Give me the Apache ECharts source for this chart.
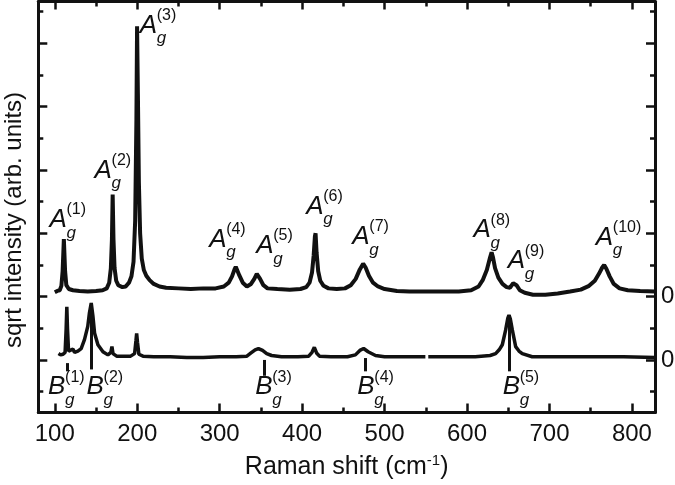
<!DOCTYPE html>
<html>
<head>
<meta charset="utf-8">
<script src="https://cdn.jsdelivr.net/npm/echarts@6/dist/echarts.min.js"></script>
<style>
html, body { margin: 0; padding: 0; background: #fff; }
#chart { width: 675px; height: 485px; }
</style>
</head>
<body>
<div id="chart"></div>
<script>
// upper spectrum (A_g modes), values relative to its own zero line
var topShift = [100, 103, 106, 108, 109.5, 111, 112.5, 114, 117, 122, 130, 140, 150, 158, 163, 166, 168, 169.3, 170.2, 171.2,
    172.5, 174.5, 177, 182, 186, 190, 193, 195.5, 197.5, 199, 199.8, 200.8, 202, 203.5, 205.5, 208, 211, 215, 220, 227,
    235, 250, 265, 280, 295, 305, 311, 315, 318, 319.5, 321, 324, 328, 333, 338, 342, 345, 346.5, 349, 353,
    358, 370, 385, 398, 405, 409, 412, 414, 415.5, 416.3, 417.5, 419.5, 422, 426, 432, 442, 452, 459, 465, 470,
    474, 477, 481, 486, 492, 500, 515, 530, 550, 570, 590, 605, 614, 619, 624, 628, 629.8, 631.5, 634, 638,
    643, 648, 652, 656, 658, 660, 664, 670, 680, 695, 710, 725, 738, 748, 755, 760, 764, 766.3, 769, 773,
    778, 785, 795, 810, 828];
var topIntensity = [0.07, 0.09, 0.10, 0.17, 0.40, 0.91, 0.40, 0.18, 0.12, 0.10, 0.09, 0.08, 0.09, 0.10, 0.13, 0.22, 0.45, 0.90, 1.61, 0.90,
    0.45, 0.25, 0.18, 0.15, 0.16, 0.22, 0.32, 0.55, 1.20, 2.80, 4.27, 3.20, 1.80, 1.00, 0.60, 0.42, 0.33, 0.26, 0.20, 0.16,
    0.14, 0.13, 0.12, 0.13, 0.13, 0.16, 0.22, 0.32, 0.43, 0.47, 0.44, 0.33, 0.22, 0.16, 0.20, 0.28, 0.36, 0.37, 0.28, 0.18,
    0.13, 0.12, 0.11, 0.12, 0.15, 0.22, 0.38, 0.65, 0.95, 1.00, 0.70, 0.40, 0.25, 0.17, 0.13, 0.12, 0.13, 0.18, 0.28, 0.43,
    0.52, 0.46, 0.33, 0.22, 0.16, 0.12, 0.09, 0.08, 0.08, 0.08, 0.08, 0.10, 0.16, 0.26, 0.42, 0.62, 0.70, 0.62, 0.45, 0.30,
    0.20, 0.15, 0.14, 0.21, 0.24, 0.18, 0.10, 0.06, 0.03, 0.03, 0.05, 0.08, 0.11, 0.17, 0.25, 0.36, 0.46, 0.50, 0.44, 0.32,
    0.20, 0.13, 0.10, 0.09, 0.08];
var topOffset = 1;

// lower spectrum (B_g modes); '-' is the gap in the recorded data
var bottomShift = [104.5, 107, 110, 112.5, 113.8, 114.6, 115.4, 116.7, 119, 122, 124, 128, 132, 136, 140, 142, 144.2, 146.2, 148.3, 152.3,
    158.4, 164.4, 168, 169.3, 170.6, 175, 185, 192, 196.8, 198.4, 199.3, 200.3, 202, 207, 220, 240, 260, 280, 300, 320,
    333, 338, 343, 347, 352, 357, 363, 375, 395, 408, 412, 414.8, 417.5, 421, 435, 455, 464.6, 470, 474.6, 480,
    489, 500, 520, 540, 549.5, 551, 553, 580, 610, 628, 634.7, 639, 642.8, 646.8, 649.5, 650.9, 652.5, 655, 659, 663,
    667, 679, 700, 730, 760, 790, 828];
var bottomIntensity = [0.10, 0.08, 0.09, 0.12, 0.50, 0.84, 0.50, 0.14, 0.12, 0.17, 0.12, 0.14, 0.18, 0.32, 0.53, 0.74, 0.90, 0.70, 0.42, 0.24,
    0.13, 0.08, 0.12, 0.21, 0.10, 0.06, 0.06, 0.06, 0.10, 0.30, 0.42, 0.28, 0.09, 0.06, 0.05, 0.05, 0.04, 0.04, 0.05, 0.05,
    0.06, 0.11, 0.16, 0.18, 0.15, 0.10, 0.07, 0.05, 0.05, 0.06, 0.12, 0.20, 0.11, 0.06, 0.05, 0.05, 0.08, 0.15, 0.18, 0.13,
    0.07, 0.05, 0.05, 0.05, 0.05, '-', 0.05, 0.05, 0.05, 0.07, 0.10, 0.16, 0.24, 0.47, 0.66, 0.71, 0.65, 0.47, 0.21, 0.14,
    0.10, 0.05, 0.05, 0.05, 0.05, 0.05, 0.04];

// mode labels: letter, superscript index, anchor (shift, intensity)
var modeLetter = ['A', 'A', 'A', 'A', 'A', 'A', 'A', 'A', 'A', 'A', 'B', 'B', 'B', 'B', 'B'];
var modeIndex = ['(1)', '(2)', '(3)', '(4)', '(5)', '(6)', '(7)', '(8)', '(9)', '(10)', '(1)', '(2)', '(3)', '(4)', '(5)'];
var modeLabelX = [93.6, 148.3, 203, 287.2, 344.3, 405, 460.9, 608, 649.3, 756.2, 91.9, 138.6, 343.1, 467, 643.2];
var modeLabelY = [2.21, 2.99, 5.28, 1.90, 1.80, 2.42, 1.94, 2.05, 1.56, 1.93, -0.43, -0.43, -0.43, -0.43, -0.43];

// B_g marker bars under the lower spectrum
var bMarkShift = [115, 144.5, 354, 476.5, 651];
var bMarkTop = [-0.05, 0.9, 0.0, 0.03, 0.71];
var bMarkBottom = [-0.18, -0.15, -0.25, -0.18, -0.18];

var xMajor = [100, 200, 300, 400, 500, 600, 700, 800];
var xMinor = [150, 250, 350, 450, 550, 650, 750];
var yMajor = [0, 1, 2, 3, 4, 5];
var yMinor = [-0.5, 0.5, 1.5, 2.5, 3.5, 4.5, 5.5];
var zeroLines = [0, topOffset];

var ink = '#111';
var font = 'Liberation Sans';

var chart = echarts.init(document.getElementById('chart'));

function xAx(pos, ticks, len, withLine, withLabel) {
    return {
        type: 'value', position: pos, min: 80, max: 828,
        axisLine: { show: withLine, onZero: false, lineStyle: { color: ink, width: 3 } },
        axisTick: { show: true, inside: true, length: len, customValues: ticks, lineStyle: { color: ink, width: 2.5 } },
        axisLabel: withLabel ? { show: true, customValues: ticks, color: ink, fontSize: 24, fontFamily: font, margin: 10 } : { show: false },
        splitLine: { show: false }
    };
}
function yAx(pos, ticks, len, withLine, labels) {
    return {
        type: 'value', position: pos, min: -0.83, max: 5.66,
        axisLine: { show: withLine, onZero: false, lineStyle: { color: ink, width: 3 } },
        axisTick: { show: true, inside: true, length: len, customValues: ticks, lineStyle: { color: ink, width: 2.5 } },
        axisLabel: labels ? { show: true, customValues: labels, formatter: function () { return '0'; }, color: ink, fontSize: 24, fontFamily: font, margin: 6 } : { show: false },
        splitLine: { show: false }
    };
}

var xBottom = xAx('bottom', xMajor, 9, true, true);
xBottom.name = '{a|Raman shift (cm}{s|-1}{a|)}';
xBottom.nameLocation = 'middle';
xBottom.nameGap = 41;
xBottom.nameTextStyle = {
    rich: {
        a: { fontSize: 25, fontFamily: font, color: ink, lineHeight: 28 },
        s: { fontSize: 15, fontFamily: font, color: ink, lineHeight: 15, verticalAlign: 'top' }
    }
};

function labelSeries(texts, dx, dy, style) {
    return {
        type: 'scatter', symbolSize: 0, silent: true, z: 5,
        itemStyle: { opacity: 1 },
        data: modeLabelX.map(function (x, i) { return { value: [x, modeLabelY[i]], name: texts[i] }; }),
        label: Object.assign({ show: true, position: 'right', distance: 0, offset: [dx, dy], color: ink, opacity: 1, fontFamily: font,
            formatter: function (p) { return p.name; } }, style)
    };
}

var markData = bMarkShift.map(function (x, i) {
    return [{ coord: [x, bMarkTop[i]] }, { coord: [x, bMarkBottom[i]] }];
});

var option = {
    animation: false,
    backgroundColor: '#fff',
    grid: { left: 38.3, right: 20, top: 1.5, bottom: 72.5, outerBoundsMode: 'none' },
    xAxis: [xBottom, xAx('bottom', xMinor, 5, false, false), xAx('top', xMajor, 8, true, false), xAx('top', xMinor, 5, false, false)],
    yAxis: [yAx('left', yMajor, 9, true, null), yAx('left', yMinor, 5, false, null), yAx('right', yMajor, 9, true, zeroLines), yAx('right', yMinor, 5, false, null)],
    graphic: [{
        type: 'text', x: 14, y: 220, rotation: Math.PI / 2,
        style: { text: 'sqrt intensity (arb. units)', fill: ink, font: '24px "' + font + '"', align: 'center', verticalAlign: 'middle' }
    }],
    series: [
        {
            type: 'line', showSymbol: false, silent: true,
            data: topShift.map(function (x, i) { return [x, topIntensity[i] + topOffset]; }),
            lineStyle: { color: ink, width: 4 }
        },
        {
            type: 'line', showSymbol: false, silent: true, connectNulls: false,
            data: bottomShift.map(function (x, i) { return [x, bottomIntensity[i]]; }),
            lineStyle: { color: ink, width: 3.5 },
            markLine: { silent: true, symbol: ['none', 'none'], label: { show: false }, lineStyle: { color: ink, width: 3, type: 'solid' }, data: markData }
        },
        labelSeries(modeLetter, 0, 0, { fontSize: 26, fontStyle: 'italic' }),
        labelSeries(modeIndex, 17, -10, { fontSize: 16 }),
        labelSeries(modeLetter.map(function () { return 'g'; }), 17, 13, { fontSize: 17, fontStyle: 'italic' })
    ]
};

chart.setOption(option);
</script>
</body>
</html>
